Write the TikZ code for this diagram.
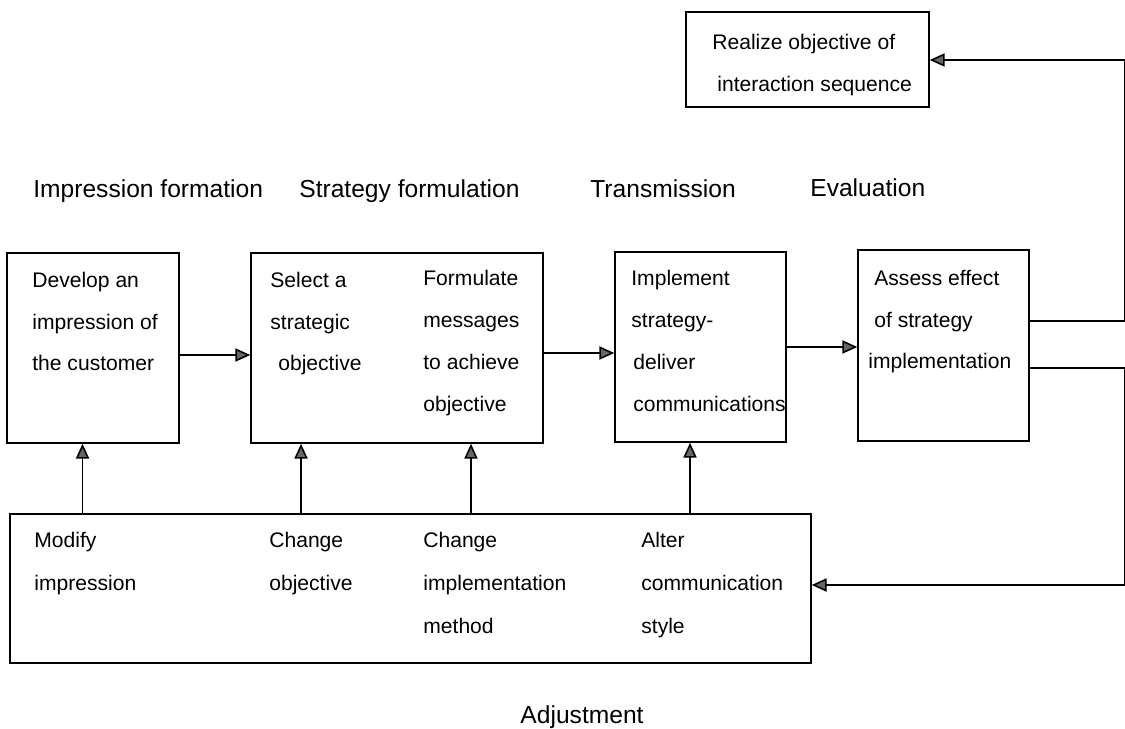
\documentclass[tikz,border=0pt]{standalone}
\usepackage{fontspec}
\setmainfont{Liberation Sans}
\usetikzlibrary{arrows.meta}
\begin{document}
\begin{tikzpicture}[x=0.02cm, y=-0.02cm,
  box/.style={draw, line width=0.9pt, rectangle, inner sep=0pt},
  arr/.style={line width=0.9pt, -{Triangle[length=8.5pt, width=7.5pt, fill=black!60]}},
  boxtext/.style={anchor=north west, inner sep=0pt, align=left, font=\fontsize{12}{23.6}\selectfont},
  adjtext/.style={anchor=north west, inner sep=0pt, align=left, font=\fontsize{12}{24.4}\selectfont},
  head/.style={anchor=base west, inner sep=0pt, font=\fontsize{14}{16}\selectfont}]
\useasboundingbox (0,0) rectangle (1125,729);

% boxes
\node[box, minimum width=4.86cm, minimum height=1.9cm] (real) at (807.5,59.5) {};
\node[box, minimum width=3.44cm, minimum height=3.8cm] (b1) at (93,348) {};
\node[box, minimum width=5.84cm, minimum height=3.8cm] (b2) at (397,348) {};
\node[box, minimum width=3.42cm, minimum height=3.8cm] (b3) at (700.5,347) {};
\node[box, minimum width=3.42cm, minimum height=3.82cm] (b4) at (943.5,345.5) {};
\node[box, minimum width=16.02cm, minimum height=2.98cm] (adj) at (410.5,588.5) {};

% box texts
\node[boxtext, font=\fontsize{12}{23.8}\selectfont] (realtxt) at (712,34) {Realize objective of\\\hspace*{0.1cm}interaction sequence};
\node[boxtext] (b1txt) at (32,272) {Develop an\\impression of\\the customer};
\node[boxtext] (b2txta) at (270,272) {Select a\\strategic\\\hspace*{0.16cm}objective};
\node[boxtext, font=\fontsize{12}{23.9}\selectfont] (b2txtb) at (423,270) {Formulate\\messages\\to achieve\\objective};
\node[boxtext, font=\fontsize{12}{23.9}\selectfont] (b3txt) at (631,270) {Implement\\strategy-\\\hspace*{0.04cm}deliver\\\hspace*{0.04cm}communications};
\node[boxtext] (b4txt) at (874,270) {Assess effect\\of strategy\\\hspace*{-0.12cm}implementation};

\node[adjtext] (a1) at (34,532) {Modify\\impression};
\node[adjtext] (a2) at (269,532) {Change\\objective};
\node[adjtext] (a3) at (423,532) {Change\\implementation\\method};
\node[adjtext] (a4) at (641,532) {Alter\\communication\\style};

% stage headings
\node[head] (h1) at (33,198) {Impression formation};
\node[head] (h2) at (299,198) {Strategy formulation};
\node[head] (h3) at (590,198) {Transmission};
\node[head] (h4) at (810,197) {Evaluation};
\node[anchor=base, inner sep=0pt, font=\fontsize{14}{16}\selectfont] (h5) at (582,723) {Adjustment};

% forward flow
\draw[arr] ([yshift=-0.14cm]b1.east) coordinate (s1) -- (s1 -| b2.west);
\draw[arr] ([yshift=-0.10cm]b2.east) coordinate (s2) -- (s2 -| b3.west);
\draw[arr] (b3.east) -- (b3.east -| b4.west);

% feedback from evaluation
\coordinate (ne) at (1124.5,60);
\coordinate (se) at (1124.5,585);
\draw[arr] ([yshift=0.49cm]b4.east) -| (ne) -- (ne -| real.east);
\draw[arr] ([yshift=-0.45cm]b4.east) -| (se) -- (se -| adj.east);

% adjustment arrows
\coordinate (u1) at ([xshift=-0.21cm]b1.south);
\coordinate (u2) at ([xshift=-1.92cm]b2.south);
\coordinate (u3) at ([xshift=1.48cm]b2.south);
\coordinate (u4) at ([xshift=-0.21cm]b3.south);
\foreach \u in {u1,u2,u3,u4}
  \draw[arr] (\u |- adj.north) -- (\u);
\end{tikzpicture}
\end{document}
